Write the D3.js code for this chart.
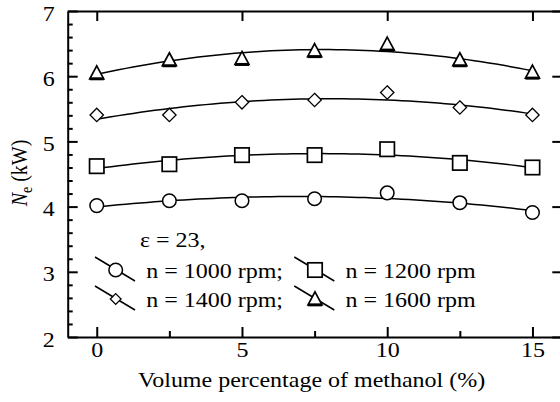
<!DOCTYPE html>
<html>
<head>
<meta charset="utf-8">
<script src="https://cdn.jsdelivr.net/npm/d3@7"></script>
<style>
  html, body { margin: 0; padding: 0; background: #fff; }
  svg { display: block; }
  text { font-family: "Liberation Serif", "Times New Roman", serif; fill: #000; }
</style>
</head>
<body>
<svg id="chart" width="560" height="402"></svg>
<script>
// ---- data ----
const methanol = [0, 2.5, 5, 7.5, 10, 12.5, 15];
const ne1000 = [4.015, 4.09, 4.09, 4.12, 4.21, 4.06, 3.91];
const ne1200 = [4.62, 4.65, 4.79, 4.79, 4.88, 4.67, 4.60];
const ne1400 = [5.405, 5.405, 5.60, 5.635, 5.75, 5.52, 5.405];
const ne1600 = [6.05, 6.25, 6.27, 6.39, 6.49, 6.25, 6.06];
const seriesNames = ["n = 1000 rpm;", "n = 1200 rpm", "n = 1400 rpm;", "n = 1600 rpm"];
const seriesMarkers = ["circle", "square", "diamond", "triangle"];
const xTicks = [0, 5, 10, 15];
const xMinorTicks = [2.5, 7.5, 12.5];
const yTicks = [2, 3, 4, 5, 6, 7];
const legendTitle = "\u03b5 = 23,";
const xTitle = "Volume percentage of methanol (%)";

const series = [
  { name: seriesNames[0], marker: seriesMarkers[0], values: ne1000 },
  { name: seriesNames[1], marker: seriesMarkers[1], values: ne1200 },
  { name: seriesNames[2], marker: seriesMarkers[2], values: ne1400 },
  { name: seriesNames[3], marker: seriesMarkers[3], values: ne1600 }
];

const SX = 1.2; // horizontal stretch of text in the reference
const svg = d3.select("#chart");
const x = d3.scaleLinear().domain([-1, 16]).range([67.7, 561.5]);
const y = d3.scaleLinear().domain([2, 7]).range([337, 11]);

// quadratic least-squares fit
function quadFit(xs, ys) {
  const n = xs.length;
  let S = [0,0,0,0,0], T = [0,0,0];
  for (let i = 0; i < n; i++) {
    for (let k = 0; k < 5; k++) S[k] += Math.pow(xs[i], k);
    for (let k = 0; k < 3; k++) T[k] += ys[i] * Math.pow(xs[i], k);
  }
  const A = [[S[0],S[1],S[2],T[0]],[S[1],S[2],S[3],T[1]],[S[2],S[3],S[4],T[2]]];
  for (let i = 0; i < 3; i++) {
    for (let j = i + 1; j < 3; j++) {
      const f = A[j][i] / A[i][i];
      for (let k = i; k < 4; k++) A[j][k] -= f * A[i][k];
    }
  }
  const c = [0,0,0];
  for (let i = 2; i >= 0; i--) {
    let s = A[i][3];
    for (let k = i + 1; k < 3; k++) s -= A[i][k] * c[k];
    c[i] = s / A[i][i];
  }
  return t => c[0] + c[1] * t + c[2] * t * t;
}

// ---- axes ----
const axisStyle = g => {
  g.selectAll("path.domain").attr("stroke", "#000").attr("stroke-width", 2);
  g.selectAll(".tick line").attr("stroke", "#000").attr("stroke-width", 2);
};

// bottom major
const gx = svg.append("g").attr("transform", `translate(0,${y(2)})`)
  .call(d3.axisBottom(x).tickValues(xTicks).tickSizeInner(-10).tickSizeOuter(0).tickPadding(0).tickFormat(d3.format("d")))
  .call(axisStyle);
gx.selectAll(".tick text").attr("font-size", 20).attr("y", null).attr("dy", null)
  .attr("transform", `translate(0,20) scale(${SX},1)`);
// bottom minor
svg.append("g").attr("transform", `translate(0,${y(2)})`)
  .call(d3.axisBottom(x).tickValues(xMinorTicks).tickSizeInner(-6).tickSizeOuter(0).tickFormat(""))
  .call(axisStyle).select("path.domain").remove();
// top
svg.append("g").attr("transform", `translate(0,${y(7)})`)
  .call(d3.axisTop(x).tickValues(xTicks).tickSizeInner(-10).tickSizeOuter(0).tickFormat(""))
  .call(axisStyle);
// left major
const gy = svg.append("g").attr("transform", `translate(${x(-1)},0)`)
  .call(d3.axisLeft(y).tickValues(yTicks).tickSizeInner(-10).tickSizeOuter(0).tickPadding(0).tickFormat(d3.format("d")))
  .call(axisStyle);
gy.selectAll(".tick text").attr("font-size", 20).attr("x", null).attr("dy", "0.45em")
  .attr("text-anchor", "end")
  .attr("transform", `translate(-13,0) scale(${SX},1)`);
// left minor
svg.append("g").attr("transform", `translate(${x(-1)},0)`)
  .call(d3.axisLeft(y).tickValues(d3.range(2, 7.001, 0.2).filter(v => Math.abs(v - Math.round(v)) > 1e-6)).tickSizeInner(-5).tickSizeOuter(0).tickFormat(""))
  .call(axisStyle).select("path.domain").remove();
// right (its line falls just outside the picture)
svg.append("g").attr("transform", `translate(${x(16) + 1.8},0)`)
  .call(d3.axisRight(y).tickValues(yTicks).tickSizeInner(-11).tickSizeOuter(0).tickFormat(""))
  .call(axisStyle);

// ---- titles ----
svg.append("text").attr("font-size", 20).attr("text-anchor", "middle")
  .attr("transform", `translate(${(x(-1) + x(16)) / 2 - 3},387) scale(${SX},1)`)
  .text(xTitle);

const yt = svg.append("text").attr("font-size", 20).attr("text-anchor", "middle")
  .attr("transform", `translate(27,173) scale(${SX},1) rotate(-90)`);
yt.append("tspan").attr("font-style", "italic").text("N");
yt.append("tspan").attr("font-size", 14).attr("dy", 4).text("e");
yt.append("tspan").attr("dy", -4).text(" (kW)");

// ---- markers ----
function drawMarker(g, type, cx, cy, small) {
  const s = small ? 0.8 : 1;
  if (type === "circle") {
    g.append("circle").attr("cx", cx).attr("cy", cy).attr("r", 6.8)
      .attr("fill", "#fff").attr("stroke", "#000").attr("stroke-width", 1.5);
  } else if (type === "square") {
    const h = 7.2;
    g.append("rect").attr("x", cx - h).attr("y", cy - h).attr("width", 2 * h).attr("height", 2 * h)
      .attr("fill", "#fff").attr("stroke", "#000").attr("stroke-width", 1.7);
  } else if (type === "diamond") {
    const h = 6.7 * s;
    g.append("path").attr("d", `M${cx},${cy - h}L${cx + h},${cy}L${cx},${cy + h}L${cx - h},${cy}Z`)
      .attr("fill", "#fff").attr("stroke", "#000").attr("stroke-width", 1.3);
  } else if (type === "triangle") {
    const w = 7, ht = 13;
    g.append("path").attr("d", `M${cx},${cy - ht * 0.55}L${cx + w},${cy + ht * 0.45}L${cx - w},${cy + ht * 0.45}Z`)
      .attr("fill", "#fff").attr("stroke", "#000").attr("stroke-width", 1.7).attr("stroke-linejoin", "miter");
    g.append("line").attr("x1", cx - w).attr("x2", cx + w)
      .attr("y1", cy + ht * 0.45).attr("y2", cy + ht * 0.45)
      .attr("stroke", "#000").attr("stroke-width", 3);
  }
}

// ---- curves and points ----
const line = d3.line().x(d => x(d[0])).y(d => y(d[1]));
const plot = svg.append("g");
series.forEach(s => {
  const f = quadFit(methanol, s.values);
  const pts = d3.range(0, 15.001, 0.25).map(t => [t, f(t)]);
  plot.append("path").attr("d", line(pts)).attr("fill", "none")
    .attr("stroke", "#000").attr("stroke-width", 1.5);
});
series.forEach(s => {
  const g = plot.append("g");
  s.values.forEach((v, i) => drawMarker(g, s.marker, x(methanol[i]), y(v), false));
});

// ---- legend ----
const leg = svg.append("g");
leg.append("text").attr("font-size", 20)
  .attr("transform", `translate(140,247) scale(${SX},1)`).text(legendTitle);
series.forEach((s, i) => {
  const col = i % 2, row = Math.floor(i / 2);
  const mx = 115.7 + col * 199.3;
  const my = 270 + row * 29;
  const g = leg.append("g");
  g.append("line").attr("x1", mx - 20.7).attr("y1", my - 13).attr("x2", mx + 19.3).attr("y2", my + 11)
    .attr("stroke", "#000").attr("stroke-width", 1.5);
  drawMarker(g, s.marker, mx, my, true);
  g.append("text").attr("font-size", 20)
    .attr("transform", `translate(${mx + 30.5},${my + 8}) scale(${SX},1)`).text(s.name);
});
</script>
</body>
</html>
